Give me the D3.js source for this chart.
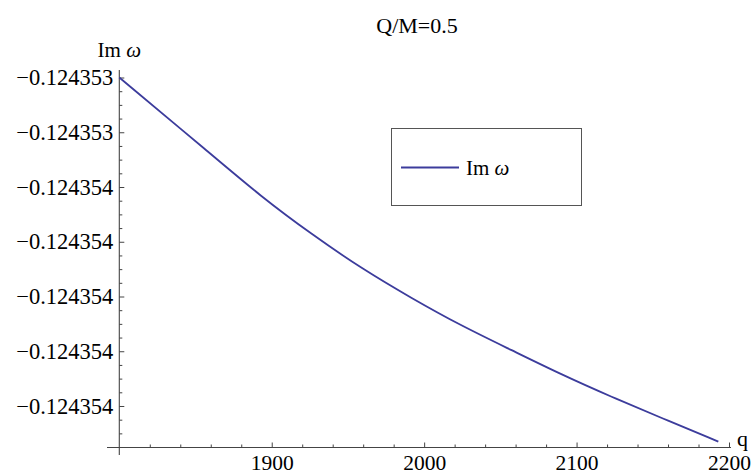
<!DOCTYPE html>
<html>
<head>
<meta charset="utf-8">
<script src="https://cdn.jsdelivr.net/npm/d3@7"></script>
<style>
  html, body { margin: 0; padding: 0; background: #fff; }
  svg { display: block; }
  svg text { font-family: "Liberation Serif", "Times New Roman", Times, serif; fill: #000; }
</style>
</head>
<body>
<svg id="chart" width="753" height="475"></svg>
<script>
// ---- data ----
const qValues = [1800, 1860, 1893, 1926, 1959, 1992, 2024, 2057, 2090, 2123, 2156, 2193];
const imOmega = [-0.1243532, -0.124353479, -0.124353635, -0.124353772, -0.124353898,
                 -0.124354007, -0.124354106, -0.124354195, -0.124354285, -0.124354367,
                 -0.124354444, -0.124354530];
const xMajorTicks = [1900, 2000, 2100, 2200];
const xMinorTicks = [1820, 1840, 1860, 1880, 1920, 1940, 1960, 1980, 2020, 2040, 2060, 2080, 2120, 2140, 2160, 2180];
const yMajorTicks = [-0.1243532, -0.1243534, -0.1243536, -0.1243538, -0.124354, -0.1243542, -0.1243544];
const yMinorTicks = [-0.12435325, -0.1243533, -0.12435335,
                     -0.12435345, -0.1243535, -0.12435355,
                     -0.12435365, -0.1243537, -0.12435375,
                     -0.12435385, -0.1243539, -0.12435395,
                     -0.12435405, -0.1243541, -0.12435415,
                     -0.12435425, -0.1243543, -0.12435435,
                     -0.12435445, -0.1243545];
const title = "Q/M=0.5";
const seriesName = "Im ω";

// ---- layout ----
const SERIF = '"Liberation Serif", "Times New Roman", Times, serif';
const svg = d3.select("#chart");
const axisColor = "#444";
const lineColor = "#3c3c9c";

const x = d3.scaleLinear().domain([1800, 2200]).range([119.3, 729]);
const y = d3.scaleLinear().domain([-0.1243545516, -0.1243531726]).range([447.5, 70]);

const fmtY = d3.format(".6f");

// y axis: major ticks (inward, labels left)
const gy = svg.append("g").attr("transform", `translate(${x(1800)},0)`);
gy.call(d3.axisLeft(y).tickValues(yMajorTicks).tickSize(-5).tickPadding(6).tickFormat(fmtY));
gy.attr("font-family", null).attr("font-size", null);
gy.select(".domain").remove();
gy.selectAll(".tick line").attr("stroke", axisColor);
gy.selectAll(".tick text").style("font-family", SERIF).style("font-size", "22.5px").attr("fill", "#000");

const gy2 = svg.append("g").attr("transform", `translate(${x(1800)},0)`);
gy2.call(d3.axisLeft(y).tickValues(yMinorTicks).tickSize(-3).tickFormat(""));
gy2.select(".domain").remove();
gy2.selectAll(".tick line").attr("stroke", axisColor);

// x axis
const gx = svg.append("g").attr("transform", `translate(0,${y.range()[0]})`);
gx.call(d3.axisBottom(x).tickValues(xMajorTicks).tickSize(-5).tickPadding(7).tickFormat(d3.format("d")));
gx.attr("font-family", null).attr("font-size", null);
gx.select(".domain").remove();
gx.selectAll(".tick line").attr("stroke", axisColor);
gx.selectAll(".tick text").style("font-family", SERIF).style("font-size", "21.5px").attr("fill", "#000");

const gx2 = svg.append("g").attr("transform", `translate(0,${y.range()[0]})`);
gx2.call(d3.axisBottom(x).tickValues(xMinorTicks).tickSize(-3).tickFormat(""));
gx2.select(".domain").remove();
gx2.selectAll(".tick line").attr("stroke", axisColor);

// axis lines
svg.append("line").attr("x1", 107).attr("x2", 731)
  .attr("y1", y.range()[0]).attr("y2", y.range()[0])
  .attr("stroke", axisColor).attr("stroke-width", 1.1);
svg.append("line").attr("x1", x(1800)).attr("x2", x(1800))
  .attr("y1", 70).attr("y2", 455)
  .attr("stroke", axisColor).attr("stroke-width", 1.1);

// axis labels
svg.append("text").attr("x", 737).attr("y", 446).style("font-family", SERIF).style("font-size", "22px").text("q");
const yl = svg.append("text").attr("x", x(1800)).attr("y", 57).attr("text-anchor", "middle")
  .style("font-family", SERIF).style("font-size", "21px");
yl.append("tspan").text("Im ");
yl.append("tspan").attr("font-style", "italic").text("ω");

// title
svg.append("text").attr("x", 417).attr("y", 33).attr("text-anchor", "middle")
  .style("font-family", SERIF).style("font-size", "22px").text(title);

// data line
const line = d3.line().x((d, i) => x(qValues[i])).y(d => y(d)).curve(d3.curveBasis);
svg.append("path").datum(imOmega)
  .attr("d", line)
  .attr("fill", "none")
  .attr("stroke", lineColor)
  .attr("stroke-width", 1.8);

// legend
const lg = svg.append("g");
lg.append("rect").attr("x", 391.5).attr("y", 128.5).attr("width", 190).attr("height", 77)
  .attr("fill", "#fff").attr("stroke", "#555").attr("stroke-width", 1);
lg.append("line").attr("x1", 401).attr("x2", 459).attr("y1", 167.5).attr("y2", 167.5)
  .attr("stroke", lineColor).attr("stroke-width", 1.8);
const lt = lg.append("text").attr("x", 466).attr("y", 175)
  .style("font-family", SERIF).style("font-size", "21px");
lt.append("tspan").text("Im ");
lt.append("tspan").attr("font-style", "italic").text(seriesName.slice(3));
</script>
</body>
</html>
